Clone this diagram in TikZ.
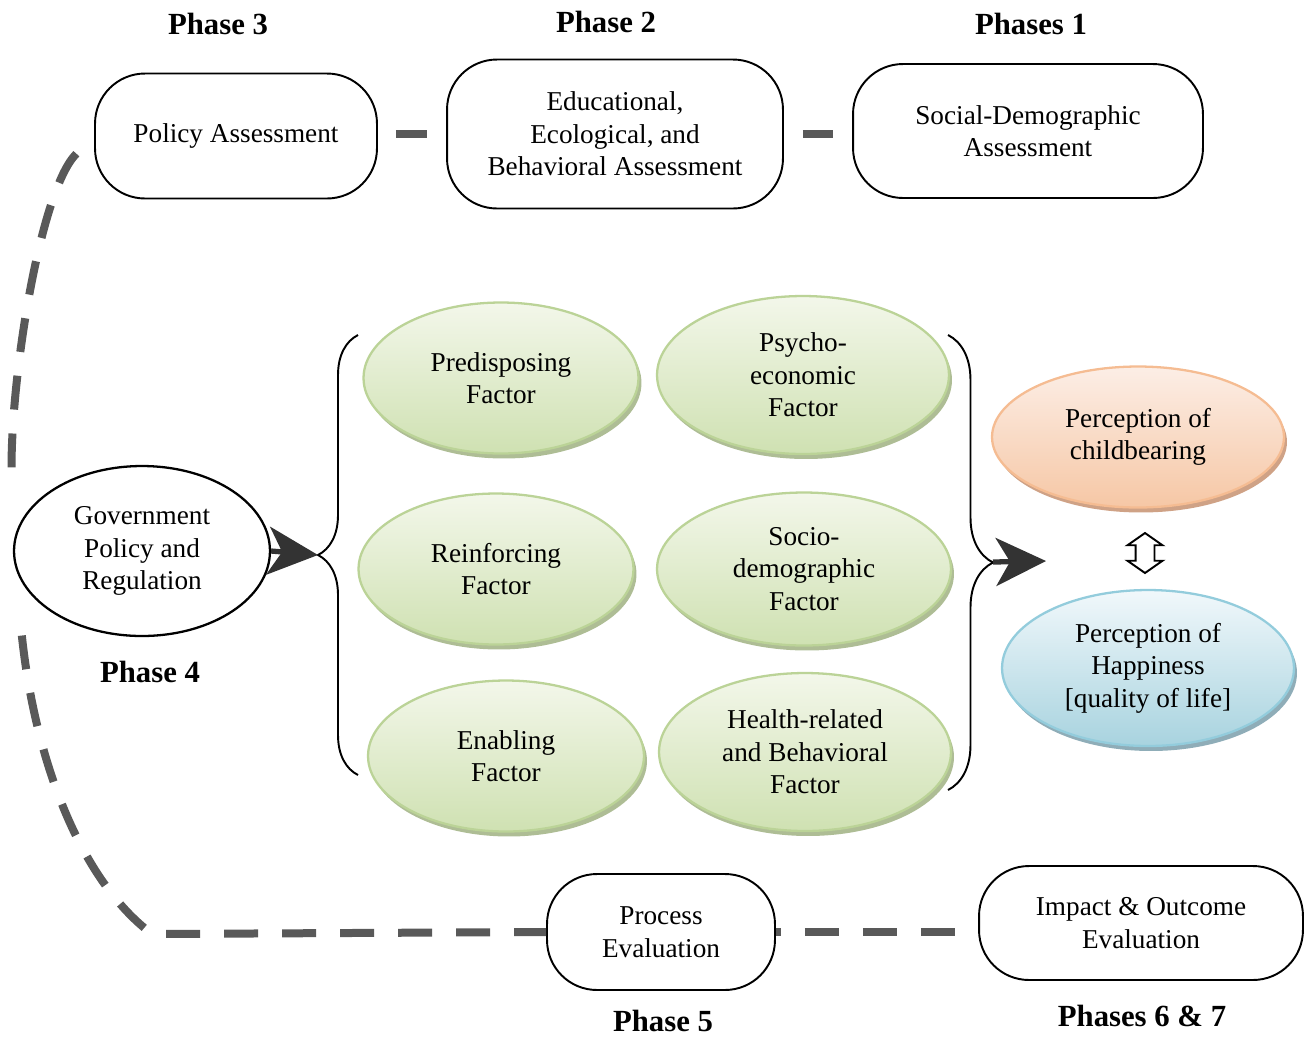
\documentclass[tikz,border=0pt]{standalone}
\usepackage{fontspec}
\setmainfont{Liberation Serif}
\usetikzlibrary{shapes.geometric,shapes.arrows,shadows,decorations.pathreplacing,arrows.meta}

\definecolor{linkgray}{HTML}{595959}
\definecolor{tipgray}{HTML}{333333}
\definecolor{greenline}{HTML}{BBD397}
\definecolor{greentop}{HTML}{F3F7EA}
\definecolor{greenbot}{HTML}{CFE1B2}
\definecolor{greenshade}{HTML}{AEBD95}
\definecolor{orangeline}{HTML}{F5BC92}
\definecolor{orangetop}{HTML}{FCEEE6}
\definecolor{orangebot}{HTML}{F6C7A5}
\definecolor{orangeshade}{HTML}{CFA286}
\definecolor{blueline}{HTML}{93CCDC}
\definecolor{bluetop}{HTML}{F1F8FB}
\definecolor{bluebot}{HTML}{A8D3DF}
\definecolor{blueshade}{HTML}{8FADB8}

\begin{document}
\begin{tikzpicture}[x=0.02cm, y=-0.02cm,
		txt/.style={align=center, inner sep=0pt, font=\fontsize{15.5}{18.5}\selectfont},
		box/.style={txt, draw, line width=1.1pt, rounded corners=1cm},
		phase/.style={inner sep=0pt, font=\bfseries\fontsize{17.5}{20}\selectfont},
		oval/.style={txt, ellipse, line width=1.3pt},
		factor/.style={oval, draw=greenline, top color=greentop, bottom color=greenbot,
			drop shadow={shadow xshift=0.06cm, shadow yshift=-0.1cm, fill=greenshade, opacity=1}},
		link/.style={draw=linkgray, line width=0.16cm, dash pattern=on 0.68cm off 0.48cm},
		bigarrow/.style={draw=tipgray, line width=3pt, -{Stealth[length=1cm, width=0.96cm, inset=0.28cm, fill=tipgray]}}
	]
	\useasboundingbox (0,0) rectangle (1306,1036);

	\node[phase] (ph3) at (218,24) {Phase 3};
	\node[phase] (ph2) at (606,22) {Phase 2};
	\node[phase] (ph1) at (1031,24) {Phases 1};

	\node[box, minimum width=5.64cm, minimum height=2.5cm] (policy) at (236,136) {Policy Assessment};
	\node[box, minimum width=6.72cm, minimum height=2.98cm] (edu) at (615,134) {Educational,\\Ecological, and\\Behavioral Assessment};
	\node[box, minimum width=7cm, minimum height=2.68cm] (social) at (1028,131) {Social-Demographic\\Assessment};

	\node[oval, draw, minimum width=5.12cm, minimum height=3.4cm] (gov) at (142,551) {Government\\Policy and\\Regulation};
	\node[phase] (ph4) at (150,672) {Phase 4};

	\node[factor, minimum width=5.5cm, minimum height=3.02cm] (pre) at (501,378) {Predisposing\\Factor};
	\node[factor, minimum width=5.84cm, minimum height=3.16cm] (psy) at (803,375) {Psycho-\\economic\\Factor};
	\node[factor, minimum width=5.5cm, minimum height=3.02cm] (rein) at (496,569) {Reinforcing\\Factor};
	\node[factor, minimum width=5.88cm, minimum height=3.06cm] (socio) at (804,569) {Socio-\\demographic\\Factor};
	\node[factor, minimum width=5.52cm, minimum height=3.02cm] (enab) at (506,756) {Enabling\\Factor};
	\node[factor, minimum width=5.84cm, minimum height=3.16cm] (health) at (805,752) {Health-related\\and Behavioral\\Factor};

	\node[oval, draw=orangeline, top color=orangetop, bottom color=orangebot, minimum width=5.84cm, minimum height=2.82cm,
		drop shadow={shadow xshift=0.06cm, shadow yshift=-0.1cm, fill=orangeshade, opacity=1}] (child) at (1138,437) {Perception of\\childbearing};
	\node[oval, draw=blueline, top color=bluetop, bottom color=bluebot, minimum width=5.84cm, minimum height=3.12cm,
		drop shadow={shadow xshift=0.06cm, shadow yshift=-0.1cm, fill=blueshade, opacity=1}] (happy) at (1148,668) {Perception of\\Happiness\\{[}quality of life{]}};

	\node[draw, line width=1.1pt, fill=white, double arrow, shape border rotate=90, inner sep=0.17cm,
		minimum height=0.8cm, minimum width=0.66cm, double arrow head extend=0.16cm, double arrow tip angle=110] (both) at (1145,553) {};

	\node[box, minimum width=4.56cm, minimum height=2.32cm] (process) at (661,932) {Process\\Evaluation};
	\node[box, minimum width=6.48cm, minimum height=2.28cm] (impact) at (1141,923) {Impact \& Outcome\\Evaluation};
	\node[phase] (ph5) at (663,1021) {Phase 5};
	\node[phase] (ph67) at (1142,1016) {Phases 6 \& 7};

	\draw[decorate, decoration={brace, amplitude=0.8cm}, line width=1.1pt] (358,775) -- (358,335);
	\draw[decorate, decoration={brace, amplitude=0.9cm}, line width=1.1pt] (948,335) -- (948,790);
	\coordinate (ltip) at (318,555);
	\coordinate (rtip) at (993,562);
	\coordinate (perc) at (1046,561);

	\draw[bigarrow] (gov.east) -- (ltip);
	\draw[bigarrow] (rtip) -- (perc);

	\draw[link, shorten <=0.36cm, shorten >=0.38cm] (edu.west -| policy.east) -- (edu.west);
	\draw[link, shorten <=0.38cm, shorten >=0.38cm] (edu.east) -- (edu.east -| social.west);
	\draw[link, shorten <=0.5cm, shorten >=1.54cm] (policy.west) .. controls (40,190) and (10,380) .. (gov.west);
	\draw[link, shorten <=1.7cm] (gov.west) .. controls (35,760) and (80,880) .. (152,934) -- (process.west);
	\draw[link, dash phase=0.58cm] (process.east) -- (impact.west |- process.east);
\end{tikzpicture}
\end{document}
